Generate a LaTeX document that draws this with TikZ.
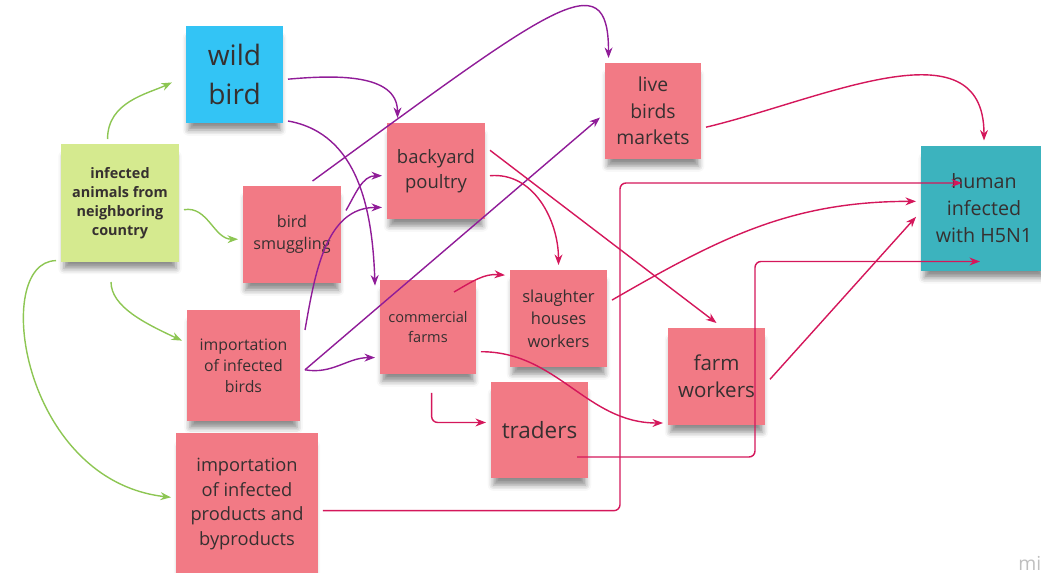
\documentclass[tikz,border=0pt]{standalone}
\usepackage{fontspec}
\setmainfont{Open Sans}
\usetikzlibrary{arrows.meta, shadows.blur}
\definecolor{notepink}{HTML}{F27A85}
\definecolor{wildblue}{HTML}{33C4F5}
\definecolor{leafgreen}{HTML}{D5EA8F}
\definecolor{humanteal}{HTML}{3CB3BE}
\definecolor{notetext}{HTML}{363030}
\definecolor{greenline}{HTML}{8DC653}
\definecolor{purpleline}{HTML}{901C98}
\definecolor{redline}{HTML}{D4175B}
\tikzstyle{note} = [rectangle, fill=notepink, text=notetext, align=center, inner sep=0pt, outer sep=0.1cm, blur shadow={shadow xshift=0cm, shadow yshift=-0.2cm, shadow scale=0.95, shadow blur radius=0.12cm, shadow opacity=45}]
\tikzstyle{greenarrow} = [line width=0.8pt, ->, >={Stealth[length=6pt,width=4.5pt]}, draw=greenline]
\tikzstyle{purplearrow} = [line width=0.8pt, ->, >={Stealth[length=6pt,width=4.5pt]}, draw=purpleline]
\tikzstyle{redarrow} = [line width=0.8pt, ->, >={Stealth[length=6pt,width=4.5pt]}, draw=redline]

\begin{document}
\begin{tikzpicture}[x=0.02cm, y=-0.02cm]
  \useasboundingbox (0,0) rectangle (1041,573);

  \node (wild) [note, fill=wildblue, minimum size=1.94cm, font=\fontsize{16}{22}\selectfont] at (234.5,74.5) {wild\\bird};
  \node (infected) [note, fill=leafgreen, minimum size=2.36cm, font=\fontsize{8.2}{10.8}\selectfont\bfseries] at (120,203) {infected\\animals from\\neighboring\\country};
  \node (smuggling) [note, minimum width=1.96cm, minimum height=1.94cm, font=\fontsize{9.2}{12.7}\selectfont] at (292,234.5) {bird\\smuggling};
  \node (backyard) [note, minimum width=1.96cm, minimum height=1.92cm, font=\fontsize{10.5}{14.2}\selectfont] at (436,171) {backyard\\poultry};
  \node (live) [note, minimum size=1.92cm, font=\fontsize{11}{15}\selectfont] at (653,111) {live\\birds\\markets};
  \node (human) [note, fill=humanteal, minimum size=2.52cm, font=\fontsize{11.2}{15.3}\selectfont] at (984,208.5) {human\\infected\\with H5N1};
  \node (commercial) [note, minimum width=1.92cm, minimum height=1.88cm, font=\fontsize{8.3}{11.3}\selectfont] at (428,327) {commercial\\farms};
  \node (slaughter) [note, minimum size=1.94cm, font=\fontsize{9.4}{12.9}\selectfont] at (558.5,318.5) {slaughter\\houses\\workers};
  \node (impbirds) [note, minimum width=2.26cm, minimum height=2.22cm, font=\fontsize{9}{12}\selectfont] at (243.5,365.5) {importation\\of infected\\birds};
  \node (farm) [note, minimum size=1.94cm, font=\fontsize{11.7}{15.5}\selectfont] at (716.5,376.5) {farm\\workers};
  \node (traders) [note, minimum width=1.94cm, minimum height=1.92cm, font=\fontsize{12.8}{15}\selectfont] at (539.5,430) {traders};
  \node (impprod) [note, minimum size=2.84cm, font=\fontsize{10.4}{14}\selectfont] at (247,504) {importation\\of infected\\products and\\byproducts};

  % from the neighboring country
  \draw [greenarrow, shorten >=0.2cm] (infected.101) to[out=90, in=205] (wild.184);
  \draw [greenarrow] (infected.-6) to[out=10, in=180] (smuggling.185);
  \draw [greenarrow, shorten <=0.3cm] (infected.262) to[out=-90, in=155] (impbirds.158);
  \draw [greenarrow] (infected.222) .. controls +(-65,1) and +(-150,-17) .. (impprod.175);

  % birds
  \draw [purplearrow] (wild.-5) to[out=5, in=90] (backyard.126);
  \draw [purplearrow] (wild.-41) to[out=-10, in=92] (commercial.142);
  \draw [purplearrow] (smuggling.69) .. controls +(240,-175) and +(0,-98) .. (live.130);
  \draw [purplearrow] (smuggling.24) to[out=60, in=180] (backyard.185);
  \draw [purplearrow] (impbirds.30) to[out=80, in=180] (backyard.214);
  \draw [purplearrow] (impbirds.-4) to[out=-10, in=180] (commercial.210);
  \draw [purplearrow] (impbirds.-4) -- (live.187);

  % to people
  \draw [redarrow] (live.-17) .. controls +(114,-27) and +(0,-120) .. (human.north);
  \draw [redarrow] (backyard.21) -- (farm.north);
  \draw [redarrow] (backyard.-5) to[out=5, in=90] (slaughter.north);
  \draw [redarrow] ([shift={(26,-35)}]commercial.center) to[out=30, in=175] (slaughter.141);
  \draw [redarrow] (commercial.-25) to[out=0, in=180] (farm.221);
  \draw [redarrow, rounded corners=0.12cm, shorten <=0.28cm] (commercial.274) |- (traders.172);
  \draw [redarrow] (slaughter.19) to[out=30, in=180] (human.174);
  \draw [redarrow] (farm.-3) -- (human.187);
  \draw [redarrow, rounded corners=0.12cm] ([shift={(37.5,27)}]traders.center) -- ++(178,0) |- ([shift={(-4,53)}]human.center);
  \draw [redarrow, rounded corners=0.12cm] (impprod.-5) -- ++(297,0) |- ([shift={(-22,-25.5)}]human.center);

  \node (miro) [text=gray!50, font=\fontsize{11}{12}\selectfont, anchor=base west, inner sep=0pt] at (1018,571) {mi};
\end{tikzpicture}
\end{document}
